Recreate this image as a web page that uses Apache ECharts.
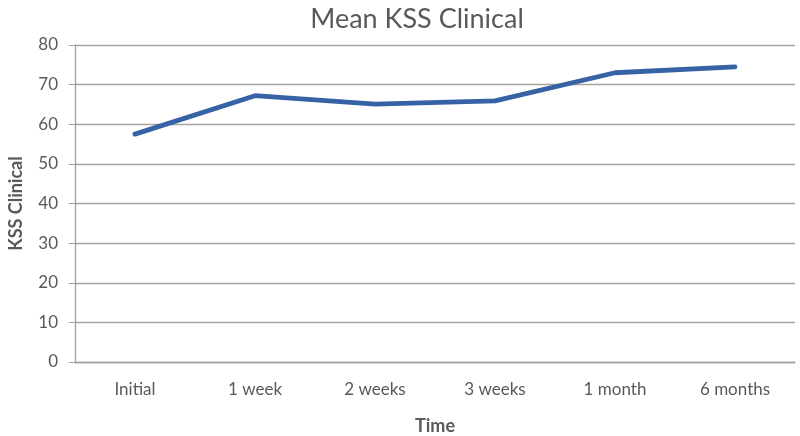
<!DOCTYPE html>
<html><head><meta charset="utf-8">
<script src="https://cdn.jsdelivr.net/npm/echarts@6/dist/echarts.min.js"></script>
<style>html,body{margin:0;padding:0;background:#fff}#c{width:800px;height:436px}</style>
</head><body><div id="c"></div>
<script>
const categories = ["Initial","1 week","2 weeks","3 weeks","1 month","6 months"];
const kssValues = [57.5, 67.2, 65.1, 65.9, 73.0, 74.5];
const yTicks = {min:0, max:80, interval:10};
const FONT = "Lato, 'Open Sans', sans-serif";
const chart = echarts.init(document.getElementById('c'));
chart.setOption({
  animation:false,
  title:{text:"Mean KSS Clinical", left:412, textAlign:'center', top:1,
    textStyle:{fontFamily:FONT, fontSize:27, fontWeight:'normal', color:'#595959'}},
  grid:{left:75, right:5, top:45, bottom:74, containLabel:false, outerBoundsMode:'none'},
  xAxis:{type:'category', data:categories, boundaryGap:true,
    name:'Time', nameLocation:'middle', nameGap:55,
    nameTextStyle:{fontFamily:FONT, fontSize:18, fontWeight:'bold', color:'#595959'},
    axisLine:{lineStyle:{color:'#a69f97', width:1.3}},
    axisTick:{alignWithLabel:true, length:7, lineStyle:{color:'#a69f97'}},
    axisLabel:{fontFamily:FONT, fontSize:17, color:'#595959', margin:19}},
  yAxis:{type:'value', min:yTicks.min, max:yTicks.max, interval:yTicks.interval,
    name:'KSS Clinical', nameLocation:'middle', nameGap:50,
    nameTextStyle:{fontFamily:FONT, fontSize:18, fontWeight:'bold', color:'#595959'},
    axisLine:{show:true, lineStyle:{color:'#a69f97', width:1.3}},
    axisTick:{show:true, length:6, lineStyle:{color:'#a69f97'}},
    axisLabel:{fontFamily:FONT, fontSize:17, color:'#595959', margin:17}},
  series:[{type:'line', data:kssValues, symbol:'none',
    lineStyle:{color:'#3763a6', width:4.8, cap:'round', join:'round'}}]
});
chart.setOption({yAxis:{splitLine:{show:true, lineStyle:{color:'#aba39c', width:1.3, type:'solid'}}}});
</script></body></html>
